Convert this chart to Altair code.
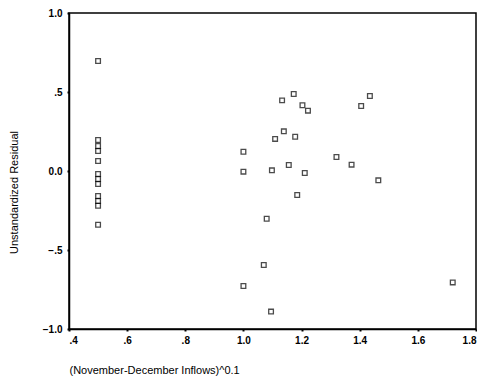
import altair as alt
import pandas as pd

x_vals = [0.5, 0.5, 0.5, 0.5, 0.5, 0.5, 0.5, 0.5, 0.5, 0.5, 0.5, 0.5,
          1.0, 1.0, 1.173, 1.133, 1.203, 1.222, 1.435, 1.405, 1.139, 1.109,
          1.178, 1.32, 1.372, 1.156, 1.098, 1.211, 1.464, 1.185, 1.08, 1.07,
          1.0, 1.095, 1.72]
y_vals = [0.696, 0.196, 0.158, 0.127, 0.063, -0.019, -0.051, -0.082, -0.158, -0.19, -0.22, -0.34,
          0.122, -0.004, 0.487, 0.447, 0.416, 0.382, 0.475, 0.411, 0.251, 0.203,
          0.217, 0.089, 0.04, 0.038, 0.004, -0.013, -0.059, -0.152, -0.302, -0.595,
          -0.728, -0.89, -0.705]
x_ticks = [0.4, 0.6, 0.8, 1.0, 1.2, 1.4, 1.6, 1.8]
y_ticks = [-1.0, -0.5, 0.0, 0.5, 1.0]

df = pd.DataFrame({"x": x_vals, "y": y_vals})

lab = "datum.value == 0 ? '0.0' : replace(format(datum.value, '.1f'), '0.', '.')"
font = "Liberation Sans"

chart = alt.Chart(df).mark_square(filled=False, size=22, strokeWidth=1.3, color="black").encode(
    x=alt.X("x:Q", scale=alt.Scale(domain=[0.4, 1.8], nice=False, zero=False),
            axis=alt.Axis(values=x_ticks, labelExpr=lab, grid=False,
                          title="(November-December Inflows)^0.1",
                          titleAnchor="start", titleAlign="left", titleX=0, titleY=35,
                          titleFont=font, titleFontSize=11, titleFontWeight="normal",
                          labelFont=font, labelFontSize=10, labelFontWeight="bold",
                          labelColor="black", titleColor="black",
                          domainColor="black", domainWidth=1.5, tickColor="black",
                          tickSize=2, tickWidth=2, labelPadding=4)),
    y=alt.Y("y:Q", scale=alt.Scale(domain=[-1.0, 1.0], nice=False, zero=False),
            axis=alt.Axis(values=y_ticks, labelExpr=lab, grid=False,
                          title="Unstandardized Residual",
                          titleX=-50, titleY=179, titleAlign="center",
                          titleFont=font, titleFontSize=11, titleFontWeight="normal",
                          labelFont=font, labelFontSize=10, labelFontWeight="bold",
                          labelColor="black", titleColor="black",
                          domainColor="black", domainWidth=1.5, tickColor="black",
                          tickSize=2, tickWidth=2, labelPadding=5)),
).properties(
    width=407, height=316,
    autosize=alt.AutoSizeParams(type="none"),
    padding={"left": 61, "top": 5, "right": 1, "bottom": 49},
).configure(background="white").configure_view(stroke="black", strokeWidth=1.5)

chart.save("out.html", embed_options={"renderer": "svg", "actions": False})
